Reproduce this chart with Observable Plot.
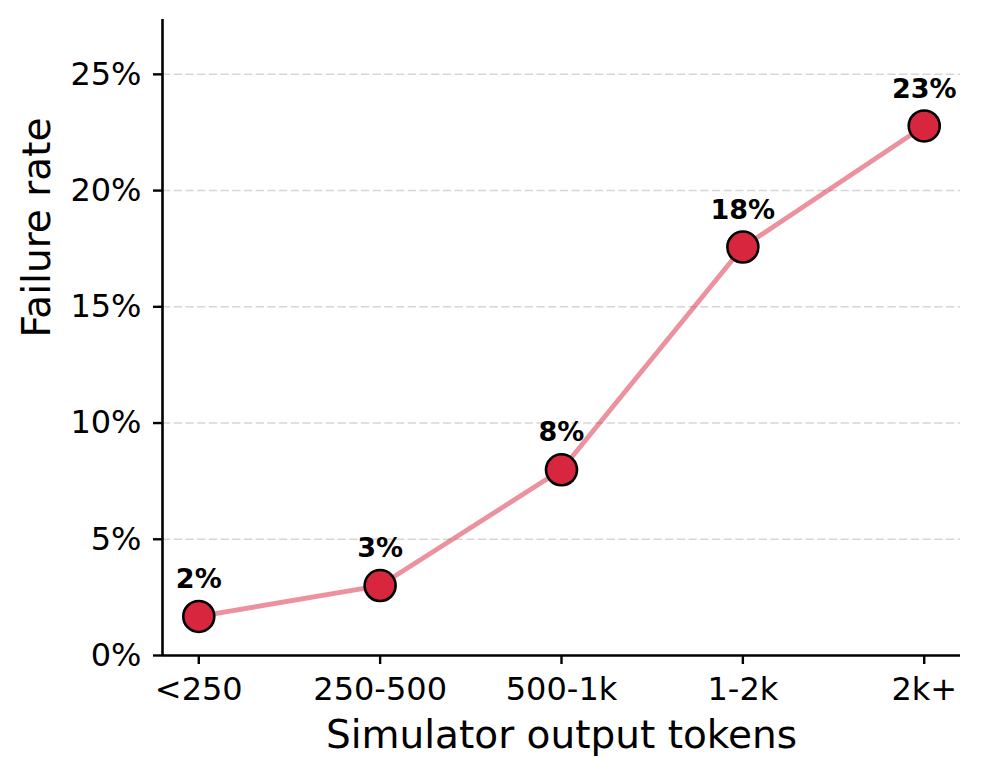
<!DOCTYPE html>
<html>
<head>
<meta charset="utf-8">
<script src="https://cdn.jsdelivr.net/npm/d3@7"></script>
<script src="https://cdn.jsdelivr.net/npm/@observablehq/plot@0.6"></script>
<style>
  html, body { margin: 0; padding: 0; background: #fff; }
  #chart svg { display: block; }
</style>
</head>
<body>
<div id="chart"></div>
<script>
const categories = ["<250", "250-500", "500-1k", "1-2k", "2k+"];
const failureRates = [0.0168, 0.0301, 0.0799, 0.1757, 0.2278];
const yTicks = [0, 0.05, 0.10, 0.15, 0.20, 0.25];
const xTitle = "Simulator output tokens";
const yTitle = "Failure rate";

const data = categories.map((c, i) => ({i, category: c, rate: failureRates[i], label: Math.round(failureRates[i] * 100) + "%"}));

const chart = Plot.plot({
  width: 981,
  height: 776,
  marginLeft: 162,
  marginRight: 21,
  marginTop: 19,
  marginBottom: 121,
  style: {fontFamily: "DejaVu Sans", fontSize: "32px", color: "black", background: "white"},
  x: {type: "linear", domain: [-0.2, 4.2]},
  y: {type: "linear", domain: [0, 0.2736]},
  marks: [
    Plot.ruleY(yTicks.slice(1), {stroke: "#d6d6d6", strokeWidth: 1.5, strokeDasharray: "8.3,3.4"}),
    Plot.line(data, {x: "i", y: "rate", stroke: "#d7263d", strokeOpacity: 0.5, strokeWidth: 4.8}),
    Plot.dot(data, {x: "i", y: "rate", r: 15.5, fill: "#d7263d", stroke: "black", strokeWidth: 2.6}),
    Plot.text(data, {x: "i", y: "rate", text: "label", dy: -37, fontWeight: "bold", fontSize: 27, lineAnchor: "middle", fill: "black"}),
    Plot.axisX({ticks: d3.range(categories.length), tickFormat: i => categories[i], tickSize: 9, tickPadding: 13, strokeWidth: 2.4, fontSize: 32, label: null}),
    Plot.axisY({ticks: yTicks, tickFormat: d3.format(".0%"), tickSize: 9, tickPadding: 12, strokeWidth: 2.4, fontSize: 32, label: null}),
    Plot.ruleX([-0.2], {stroke: "black", strokeWidth: 2.6}),
    Plot.ruleY([0], {stroke: "black", strokeWidth: 2.6}),
    Plot.text([xTitle], {frameAnchor: "bottom", dy: 80.5, fontSize: 39, lineAnchor: "middle", fill: "black"}),
    Plot.text([yTitle], {frameAnchor: "left", dx: -124.5, rotate: -90, fontSize: 39, lineAnchor: "middle", fill: "black"})
  ]
});
document.getElementById("chart").appendChild(chart);
</script>
</body>
</html>
